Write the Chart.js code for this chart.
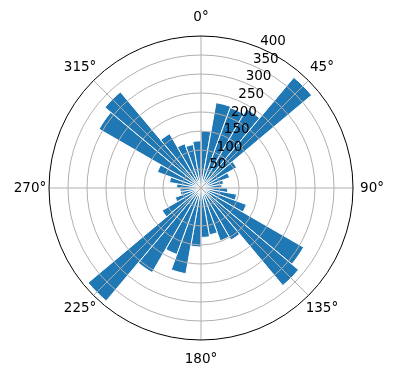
<!DOCTYPE html>
<html>
<head>
<meta charset="utf-8">
<script src="https://cdn.jsdelivr.net/npm/chart.js@4.4.1/dist/chart.umd.min.js"></script>
<style>
  html, body { margin: 0; padding: 0; background: #ffffff; }
  #wrap { width: 396px; height: 380px; }
</style>
</head>
<body>
<div id="wrap"><canvas id="rose"></canvas></div>
<script>
// 10 degree direction bins, clockwise from north
const binStarts = [0, 10, 20, 30, 40, 50, 60, 70, 80, 90, 100, 110,
                   120, 130, 140, 150, 160, 170, 180, 190, 200, 210, 220, 230,
                   240, 250, 260, 270, 280, 290, 300, 310, 320, 330, 340, 350];
const counts = [150, 228, 225, 240, 380, 108, 80, 60, 55, 70, 95, 127,
                312, 335, 158, 148, 125, 130, 155, 229, 186, 257, 388, 118,
                72, 55, 55, 64, 84, 122, 310, 330, 165, 124, 116, 124];
const radialTicks = [50, 100, 150, 200, 250, 300, 350, 400];
const angleTicks = [0, 45, 90, 135, 180, 225, 270, 315];

const FONT = '13.5px "DejaVu Sans", sans-serif';

// compass angle (deg, clockwise from north) + distance -> canvas point
function polarPoint(scale, deg, dist) {
  const a = (deg - 90) * Math.PI / 180;
  return { x: scale.xCenter + Math.cos(a) * dist, y: scale.yCenter + Math.sin(a) * dist };
}

// grid, spine and labels drawn on top of the bars, like matplotlib does
const polarDecor = {
  id: 'polarDecor',
  afterDatasetsDraw(chart) {
    const ctx = chart.ctx;
    const scale = chart.scales.r;
    const cx = scale.xCenter, cy = scale.yCenter;
    const outer = scale.getDistanceFromCenterForValue(scale.max);

    ctx.save();
    // rings
    ctx.strokeStyle = '#b0b0b0';
    ctx.lineWidth = 1;
    radialTicks.forEach(v => {
      if (v >= scale.max) return;
      ctx.beginPath();
      ctx.arc(cx, cy, scale.getDistanceFromCenterForValue(v), 0, Math.PI * 2);
      ctx.stroke();
    });
    // spokes
    angleTicks.forEach(a => {
      const p = polarPoint(scale, a, outer);
      ctx.beginPath();
      ctx.moveTo(cx, cy);
      ctx.lineTo(p.x, p.y);
      ctx.stroke();
    });
    // outer spine
    ctx.strokeStyle = '#000000';
    ctx.lineWidth = 1;
    ctx.beginPath();
    ctx.arc(cx, cy, outer, 0, Math.PI * 2);
    ctx.stroke();

    // radial tick labels along 22.5 deg
    ctx.fillStyle = '#000000';
    ctx.font = FONT;
    ctx.textAlign = 'left';
    ctx.textBaseline = 'bottom';
    radialTicks.forEach(v => {
      const p = polarPoint(scale, 22.5, scale.getDistanceFromCenterForValue(v));
      ctx.fillText(String(v), p.x + 1, p.y + 1);
    });

    // angle labels
    ctx.textAlign = 'center';
    ctx.textBaseline = 'middle';
    angleTicks.forEach(a => {
      const p = polarPoint(scale, a, outer + 19);
      ctx.fillText(a + '°', p.x, p.y);
    });
    ctx.restore();
  }
};

new Chart(document.getElementById('rose'), {
  type: 'polarArea',
  data: {
    labels: binStarts.map(d => d + '°'),
    datasets: [{
      data: counts,
      backgroundColor: '#1f77b4',
      borderColor: '#ffffff',
      borderWidth: 1
    }]
  },
  options: {
    responsive: true,
    maintainAspectRatio: false,
    devicePixelRatio: 1,
    animation: false,
    events: [],
    startAngle: 0,
    layout: { padding: { left: 49, right: 43, top: 36, bottom: 40 } },
    plugins: {
      legend: { display: false },
      tooltip: { enabled: false }
    },
    scales: {
      r: {
        min: 0,
        max: 400,
        ticks: { display: false, stepSize: 50 },
        grid: { display: false },
        angleLines: { display: false },
        pointLabels: { display: false }
      }
    }
  },
  plugins: [polarDecor]
});
</script>
</body>
</html>
